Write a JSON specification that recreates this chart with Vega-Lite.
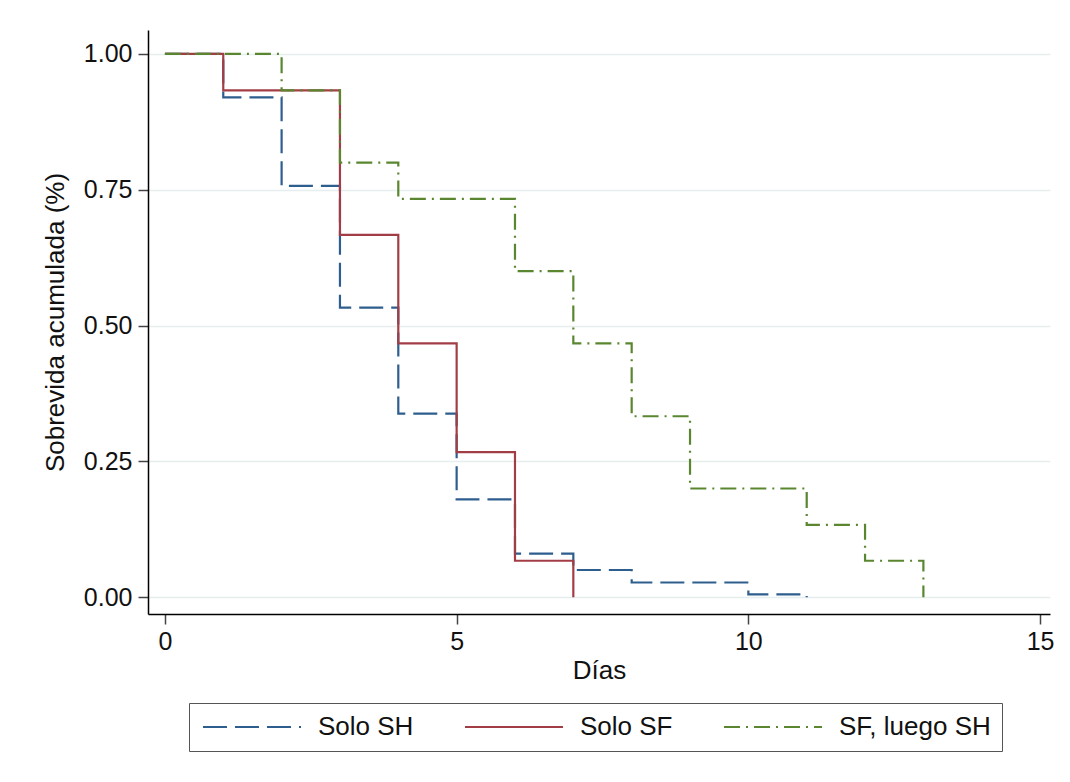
{
  "$schema": "https://vega.github.io/schema/vega-lite/v6.json",
  "autosize": "none",
  "width": 902,
  "height": 584,
  "padding": {"left": 148, "top": 30, "right": 20, "bottom": 168},
  "background": "white",
  "config": {
    "font": "Liberation Sans",
    "view": {"stroke": null}
  },
  "data": {
    "values": [
      {"g": "Solo SH", "t": 0, "s": 1},
      {"g": "Solo SH", "t": 1, "s": 0.92},
      {"g": "Solo SH", "t": 2, "s": 0.757},
      {"g": "Solo SH", "t": 3, "s": 0.533},
      {"g": "Solo SH", "t": 4, "s": 0.338},
      {"g": "Solo SH", "t": 5, "s": 0.18},
      {"g": "Solo SH", "t": 6, "s": 0.08},
      {"g": "Solo SH", "t": 7, "s": 0.05},
      {"g": "Solo SH", "t": 8, "s": 0.027},
      {"g": "Solo SH", "t": 10, "s": 0.005},
      {"g": "Solo SH", "t": 11, "s": 0},
      {"g": "Solo SF", "t": 0, "s": 1},
      {"g": "Solo SF", "t": 1, "s": 0.933},
      {"g": "Solo SF", "t": 3, "s": 0.667},
      {"g": "Solo SF", "t": 4, "s": 0.467},
      {"g": "Solo SF", "t": 5, "s": 0.267},
      {"g": "Solo SF", "t": 6, "s": 0.067},
      {"g": "Solo SF", "t": 7, "s": 0},
      {"g": "SF, luego SH", "t": 0, "s": 1},
      {"g": "SF, luego SH", "t": 2, "s": 0.933},
      {"g": "SF, luego SH", "t": 3, "s": 0.8},
      {"g": "SF, luego SH", "t": 4, "s": 0.733},
      {"g": "SF, luego SH", "t": 6, "s": 0.6},
      {"g": "SF, luego SH", "t": 7, "s": 0.467},
      {"g": "SF, luego SH", "t": 8, "s": 0.333},
      {"g": "SF, luego SH", "t": 9, "s": 0.2},
      {"g": "SF, luego SH", "t": 11, "s": 0.133},
      {"g": "SF, luego SH", "t": 12, "s": 0.067},
      {"g": "SF, luego SH", "t": 13, "s": 0}
    ]
  },
  "mark": {"type": "line", "interpolate": "step-after", "strokeWidth": 2.2},
  "encoding": {
    "x": {
      "field": "t",
      "type": "quantitative",
      "scale": {"domain": [-0.29, 15.17], "nice": false, "zero": false},
      "axis": {
        "values": [0, 5, 10, 15],
        "title": "Días",
        "grid": false,
        "domainColor": "#000000",
        "domainWidth": 1.5,
        "tickColor": "#444444",
        "tickWidth": 1.5,
        "tickSize": 10,
        "labelFontSize": 25,
        "labelColor": "#111111",
        "labelPadding": 5,
        "titleFontSize": 26,
        "titleFontWeight": "normal",
        "titleColor": "#111111",
        "titlePadding": 3
      }
    },
    "y": {
      "field": "s",
      "type": "quantitative",
      "scale": {"domain": [-0.031, 1.044], "nice": false, "zero": false},
      "axis": {
        "values": [0, 0.25, 0.5, 0.75, 1],
        "format": ".2f",
        "title": "Sobrevida acumulada (%)",
        "grid": true,
        "gridColor": "#e6eef0",
        "gridWidth": 1.5,
        "domainColor": "#000000",
        "domainWidth": 1.5,
        "tickColor": "#444444",
        "tickWidth": 1.5,
        "tickSize": 10,
        "labelFontSize": 25,
        "labelColor": "#111111",
        "labelPadding": 6,
        "titleFontSize": 26,
        "titleFontWeight": "normal",
        "titleColor": "#111111",
        "titlePadding": 15
      }
    },
    "color": {
      "field": "g",
      "type": "nominal",
      "scale": {
        "domain": ["Solo SH", "Solo SF", "SF, luego SH"],
        "range": ["#2e5e8e", "#a33d45", "#5a8630"]
      },
      "legend": {
        "title": null,
        "orient": "none",
        "legendX": 41,
        "legendY": 673,
        "direction": "horizontal",
        "columns": 3,
        "columnPadding": 46,
        "padding": 11,
        "strokeColor": "#555555",
        "symbolType": "M-4.9,0H4.9",
        "symbolSize": 400,
        "symbolOffset": 39,
        "symbolStrokeWidth": 2.2,
        "labelFontSize": 26,
        "labelColor": "#111111",
        "labelOffset": 53,
        "labelLimit": 400
      }
    },
    "strokeDash": {
      "field": "g",
      "type": "nominal",
      "scale": {
        "domain": ["Solo SH", "Solo SF", "SF, luego SH"],
        "range": [[24, 8], [1, 0], [16, 6, 2, 6]]
      },
      "legend": {
        "title": null,
        "orient": "none",
        "legendX": 41,
        "legendY": 673,
        "direction": "horizontal",
        "columns": 3,
        "columnPadding": 46,
        "padding": 11,
        "strokeColor": "#555555",
        "symbolType": "M-4.9,0H4.9",
        "symbolSize": 400,
        "symbolOffset": 39,
        "symbolStrokeWidth": 2.2,
        "labelFontSize": 26,
        "labelColor": "#111111",
        "labelOffset": 53,
        "labelLimit": 400
      }
    }
  }
}
